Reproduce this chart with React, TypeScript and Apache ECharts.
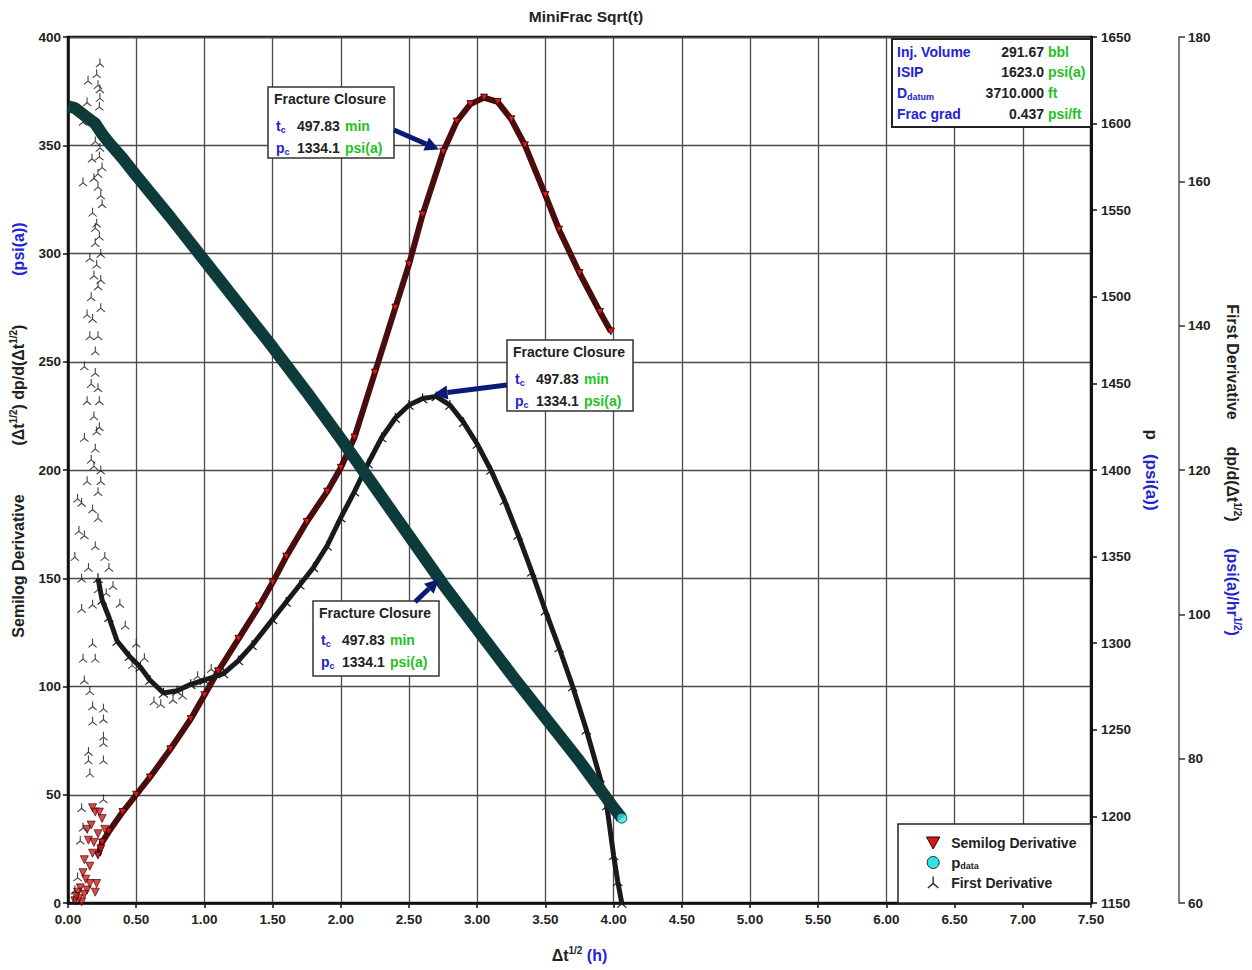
import React, { useEffect, useRef } from "react";
import * as echarts from "echarts";

const FONT = '"Liberation Sans", Arial, sans-serif';

// Semilog derivative (left axis, psi(a))
const semilogEarly: [number, number][] = [
  [0.18, 44], [0.2, 42], [0.23, 42], [0.25, 39], [0.14, 34], [0.15, 29], [0.22, 32], [0.18, 23],
  [0.16, 17], [0.11, 14], [0.09, 7], [0.07, 5], [0.05, 1], [0.14, 6], [0.2, 5], [0.1, 0.5],
  [0.21, 9], [0.16, 9], [0.27, 34], [0.12, 20], [0.19, 28], [0.08, 2], [0.13, 11], [0.17, 36],
  [0.06, 3], [0.12, 4], [0.24, 25],
];
const semilogMain: [number, number][] = [
  [0.22, 22], [0.25, 28], [0.3, 33], [0.4, 42], [0.5, 50], [0.6, 58], [0.75, 71], [0.9, 85],
  [1.0, 96], [1.1, 107], [1.25, 122], [1.4, 137], [1.5, 148], [1.6, 160], [1.75, 176], [1.9, 190],
  [2.0, 201], [2.1, 215], [2.25, 245], [2.4, 275], [2.5, 295], [2.6, 318], [2.75, 347], [2.85, 361],
  [2.95, 369], [3.05, 372], [3.15, 370], [3.25, 362], [3.35, 350], [3.5, 327], [3.6, 311],
  [3.75, 291], [3.9, 273], [3.98, 264],
];

// Pressure data (right axis, psi(a))
const pData: [number, number][] = [
  [0, 1610], [0.05, 1609], [0.1, 1606], [0.15, 1603], [0.2, 1600], [0.25, 1594], [0.3, 1589],
  [0.4, 1580], [0.5, 1570], [0.75, 1546], [1.0, 1521], [1.25, 1496], [1.5, 1471], [1.75, 1445],
  [2.0, 1418], [2.25, 1390], [2.5, 1362], [2.75, 1334], [3.0, 1308], [3.25, 1282], [3.5, 1257],
  [3.75, 1232], [4.0, 1205], [4.06, 1199],
];

// First derivative (outer right axis, psi(a)/hr^1/2)
const firstDerivEarly: [number, number][] = [
  [0.234, 176.4], [0.147, 174], [0.22, 173.4], [0.234, 172.8], [0.234, 171.6], [0.14, 171],
  [0.11, 168.3], [0.234, 164.7], [0.176, 163.2], [0.25, 162], [0.11, 159.9], [0.22, 161.1],
  [0.22, 159.3], [0.25, 156.9], [0.18, 155.7], [0.21, 154.2], [0.2, 151.5], [0.16, 149.4],
  [0.24, 150], [0.19, 147], [0.22, 145.5], [0.17, 144], [0.24, 142.5], [0.14, 141.6],
  [0.16, 138.6], [0.2, 136.5], [0.12, 134.4], [0.17, 132], [0.22, 131.4], [0.14, 129.6],
  [0.19, 127.5], [0.23, 126], [0.12, 124.5], [0.2, 123], [0.17, 121.5], [0.24, 120],
  [0.14, 118.5], [0.22, 117], [0.1, 115.5], [0.07, 116.1], [0.18, 114.6], [0.08, 111.6],
  [0.12, 111], [0.05, 108], [0.2, 109.5], [0.15, 106.5], [0.1, 105], [0.22, 103.5],
  [0.1, 100.8], [0.18, 101.4], [0.11, 93.9], [0.2, 93.9], [0.18, 96], [0.12, 90.9],
  [0.16, 89.4], [0.18, 87.3], [0.18, 85.2], [0.26, 85.5], [0.26, 87], [0.15, 81],
  [0.15, 79.8], [0.16, 78], [0.26, 83.1], [0.26, 82.2], [0.26, 79.8], [0.1, 73.2],
  [0.26, 74.4], [0.11, 70.5], [0.09, 68.7], [0.07, 63.6], [0.05, 61.8], [0.04, 60.3],
  [0.21, 174.9], [0.23, 170.4], [0.22, 168], [0.2, 165.6], [0.23, 163.5], [0.19, 160.5],
  [0.24, 158.1], [0.2, 153.6], [0.23, 152.4], [0.21, 148.5], [0.24, 146.4], [0.18, 141],
  [0.22, 138.6], [0.2, 133.5], [0.23, 129.6], [0.21, 125.4], [0.19, 120.6], [0.24, 118.5],
  [0.22, 113.4], [0.27, 108], [0.3, 106.5], [0.28, 103], [0.33, 104], [0.38, 101.5],
  [0.42, 98.5], [0.5, 96], [0.47, 93], [0.56, 94], [0.63, 88], [0.68, 87.6], [0.77, 88.2],
  [0.84, 88.8], [0.95, 91.5], [1.05, 92.5],
];
const firstDerivMain: [number, number][] = [
  [0.22, 105], [0.25, 102], [0.3, 99.6], [0.36, 96.3], [0.45, 94.2], [0.53, 92.7], [0.6, 90.9],
  [0.7, 89.1], [0.8, 89.4], [0.9, 90.3], [1.0, 90.9], [1.14, 91.8], [1.25, 93.6], [1.35, 95.7],
  [1.5, 99.3], [1.6, 101.7], [1.7, 104.1], [1.8, 106.5], [1.9, 109.5], [2.0, 113.4], [2.1, 117],
  [2.2, 120.9], [2.3, 124.5], [2.4, 127.2], [2.5, 129], [2.6, 129.9], [2.7, 130.2], [2.8, 129],
  [2.9, 126.6], [3.0, 123.6], [3.1, 120], [3.2, 115.8], [3.3, 111], [3.4, 105.9], [3.5, 100.5],
  [3.6, 95.4], [3.7, 90], [3.8, 84], [3.9, 77.4], [3.95, 73.5], [4.0, 66.6], [4.03, 63],
  [4.06, 60],
];

const infoLabels = ["{b|Inj. Volume}", "{b|ISIP}", "{b|D}{s|datum}", "{b|Frac grad}"];
const infoValues = ["291.67", "1623.0", "3710.000", "0.437"];
const infoUnits = ["bbl", "psi(a)", "ft", "psi/ft"];
const closureTc = "497.83";
const closurePc = "1334.1";

const TRI_DOWN = "path://M0,0L10,0L5,9Z";
const TRI_STAR = "path://M4.4,0H5.6V5.4L9.8,9.2L9,10L5,6.6L1,10L0.2,9.2L4.4,5.4Z";

const BLUE = "#2323d2";
const GREEN = "#1fc21f";
const DARK = "#222";
const NAVY = "#0b1a72";
const SP = (n: number) => " ".repeat(n);
const TS = 14; // annotation text size

function arrow(from: number[], to: number[]) {
  const dx = to[0] - from[0];
  const dy = to[1] - from[1];
  const len = Math.hypot(dx, dy);
  const ux = dx / len;
  const uy = dy / len;
  const hl = 14;
  const hw = 7;
  const bx = to[0] - ux * hl;
  const by = to[1] - uy * hl;
  const px = -uy;
  const py = ux;
  return [
    { type: "line", z: 20, shape: { x1: from[0], y1: from[1], x2: bx, y2: by }, style: { stroke: NAVY, lineWidth: 5 } },
    {
      type: "polygon",
      z: 20,
      shape: { points: [[to[0], to[1]], [bx + px * hw, by + py * hw], [bx - px * hw, by - py * hw]] },
      style: { fill: NAVY },
    },
  ];
}

const subRich = {
  b: { fontSize: TS, fontWeight: "bold", fontFamily: FONT, fill: BLUE, color: BLUE, lineHeight: 17 },
  s: { fontSize: 9, fontWeight: "bold", fontFamily: FONT, fill: BLUE, color: BLUE, verticalAlign: "bottom", lineHeight: 17, padding: [5, 0, 0, 0] },
};

function txt(text: string, x: number, y: number, fill: string, align = "left", z = 21) {
  return {
    type: "text",
    z,
    x,
    y,
    style: { text, fill, fontSize: TS, fontWeight: "bold", fontFamily: FONT, align, verticalAlign: "middle" },
  };
}

function richTxt(text: string, x: number, y: number, z = 21) {
  return {
    type: "text",
    z,
    x,
    y,
    style: { text, fontSize: TS, fontWeight: "bold", fontFamily: FONT, fill: BLUE, verticalAlign: "middle", rich: subRich },
  };
}

function closureBox(x: number, y: number, w: number, h: number) {
  return [
    { type: "rect", z: 19, shape: { x, y, width: w, height: h }, style: { fill: "#fff", stroke: "#333", lineWidth: 1.5 } },
    txt("Fracture Closure", x + 6, y + 12, DARK),
    richTxt("{b|t}{s|c}", x + 8, y + 39),
    txt(closureTc, x + 29, y + 39, DARK),
    txt("min", x + 77, y + 39, GREEN),
    richTxt("{b|p}{s|c}", x + 8, y + 61),
    txt(closurePc, x + 29, y + 61, DARK),
    txt("psi(a)", x + 77, y + 61, GREEN),
  ];
}

export default function App() {
  const ref = useRef<HTMLDivElement>(null);

  useEffect(() => {
    if (!ref.current) return;
    const chart = echarts.init(ref.current, undefined, { renderer: "svg" });

    const axisLabelStyle = { fontSize: 13.5, fontWeight: "bold", color: DARK, fontFamily: FONT };
    const nameRich = (size: number) => ({
      a: { fontSize: size, fontWeight: "bold", color: DARK, fontFamily: FONT, lineHeight: 20 },
      sup: { fontSize: 10, fontWeight: "bold", color: DARK, fontFamily: FONT, verticalAlign: "top", lineHeight: 20 },
      u: { fontSize: size, fontWeight: "bold", color: BLUE, fontFamily: FONT, lineHeight: 20 },
      usup: { fontSize: 10, fontWeight: "bold", color: BLUE, fontFamily: FONT, verticalAlign: "top", lineHeight: 20 },
    });

    const option: any = {
      animation: false,
      backgroundColor: "#fff",
      title: {
        text: "MiniFrac Sqrt(t)",
        left: 581,
        top: 3,
        textAlign: "center",
        textStyle: { fontSize: 15.5, fontWeight: "bold", color: DARK, fontFamily: FONT },
      },
      grid: { left: 68, right: 161, top: 37, bottom: 67, show: true, borderColor: "#111", borderWidth: 2.5, backgroundColor: "#fff" },
      legend: {
        orient: "vertical",
        left: 921,
        top: 831,
        itemGap: 5,
        itemWidth: 14,
        itemHeight: 12,
        z: 6,
        selectedMode: false,
        data: [
          { name: "Semilog Derivative", icon: TRI_DOWN, itemStyle: { color: "#d41a1a", borderColor: "#2a0000", borderWidth: 1 } },
          { name: "p_data", icon: "circle", itemStyle: { color: "#35e3e3", borderColor: "#083030", borderWidth: 1 } },
          { name: "First Derivative", icon: TRI_STAR, itemStyle: { color: "#333", borderWidth: 0 } },
        ],
        formatter: (n: string) => (n === "p_data" ? "{p|p}{s|data}" : n),
        textStyle: {
          fontSize: 14,
          fontWeight: "bold",
          color: DARK,
          fontFamily: FONT,
          padding: [0, 0, 0, 6],
          rich: {
            p: { fontSize: 15, fontWeight: "bold", color: DARK, fontFamily: FONT, lineHeight: 16 },
            s: { fontSize: 9, fontWeight: "bold", color: DARK, fontFamily: FONT, verticalAlign: "bottom", lineHeight: 16, padding: [5, 0, 0, 0] },
          },
        },
      },
      xAxis: {
        type: "value",
        min: 0,
        max: 7.5,
        interval: 0.5,
        name: "{a|Δt}{sup|1/2}{u| (h)}",
        nameLocation: "middle",
        nameGap: 42,
        nameTextStyle: { rich: nameRich(16) },
        axisLine: { lineStyle: { color: "#111", width: 2.5 } },
        axisTick: { show: true, length: 5, lineStyle: { color: "#111", width: 1.5 } },
        axisLabel: { ...axisLabelStyle, margin: 9, formatter: (v: number) => v.toFixed(2) },
        splitLine: { show: true, lineStyle: { color: "#4a4a4a", width: 1.3 } },
      },
      yAxis: [
        {
          type: "value",
          min: 0,
          max: 400,
          interval: 50,
          position: "left",
          name: `{a|Semilog Derivative${SP(11)}(Δt}{sup|1/2}{a|) dp/d(Δt}{sup|1/2}{a|)${SP(11)}}{u|(psi(a))}`,
          nameLocation: "middle",
          nameRotate: 90,
          nameGap: 40,
          nameTextStyle: { padding: [0, 0, 0, 80], rich: nameRich(16) },
          axisLine: { show: true, lineStyle: { color: "#111", width: 2.5 } },
          axisTick: { show: true, length: 5, lineStyle: { color: "#111", width: 1.5 } },
          axisLabel: { ...axisLabelStyle, margin: 7 },
          splitLine: { show: true, lineStyle: { color: "#4a4a4a", width: 1.3 } },
        },
        {
          type: "value",
          min: 1150,
          max: 1650,
          interval: 50,
          position: "right",
          name: "{a|p   }{u|(psi(a))}",
          nameLocation: "middle",
          nameRotate: -90,
          nameGap: 50,
          nameTextStyle: { rich: nameRich(17) },
          axisLine: { show: true, lineStyle: { color: "#111", width: 3 } },
          axisTick: { show: true, length: 6, lineStyle: { color: "#111", width: 1.5 } },
          axisLabel: { ...axisLabelStyle, margin: 10, formatter: (v: number) => String(v) },
          splitLine: { show: false },
        },
        {
          type: "value",
          min: 60,
          max: 180,
          interval: 20,
          position: "right",
          offset: 88,
          name: `{a|First Derivative${SP(6)}dp/d(Δt}{sup|1/2}{a|)${SP(6)}}{u|(psi(a)/hr}{usup|1/2}{u|)}`,
          nameLocation: "middle",
          nameRotate: -90,
          nameGap: 43,
          nameTextStyle: { rich: nameRich(16) },
          axisLine: { show: true, lineStyle: { color: "#555", width: 1.5 } },
          axisTick: { show: true, length: 6, lineStyle: { color: "#333", width: 1.5 } },
          axisLabel: { ...axisLabelStyle, margin: 9, formatter: (v: number) => String(v) },
          splitLine: { show: false },
        },
      ],
      series: [
        {
          name: "Semilog Derivative",
          type: "line",
          yAxisIndex: 0,
          data: semilogMain,
          symbol: TRI_DOWN,
          symbolSize: 7,
          showSymbol: true,
          showAllSymbol: true,
          lineStyle: { color: "#4a0c0c", width: 6 },
          itemStyle: { color: "#d41a1a", borderColor: "#2a0000", borderWidth: 0.8 },
          z: 3,
        },
        {
          name: "Semilog Derivative",
          type: "scatter",
          yAxisIndex: 0,
          data: semilogEarly,
          symbol: TRI_DOWN,
          symbolSize: 8,
          itemStyle: { color: "#d41a1a", borderColor: "#2a0000", borderWidth: 0.8 },
          z: 3,
        },
        {
          name: "p_data",
          type: "line",
          yAxisIndex: 1,
          data: pData,
          showSymbol: false,
          lineStyle: { color: "#0d3b3b", width: 12 },
          z: 4,
        },
        {
          name: "p_data",
          type: "scatter",
          yAxisIndex: 1,
          data: [pData[pData.length - 1]],
          symbol: "circle",
          symbolSize: 10,
          itemStyle: { color: "#35e3e3", borderColor: "#083030", borderWidth: 1 },
          z: 5,
        },
        {
          name: "First Derivative",
          type: "line",
          yAxisIndex: 2,
          data: firstDerivMain,
          symbol: TRI_STAR,
          symbolSize: 10,
          showSymbol: true,
          showAllSymbol: true,
          lineStyle: { color: "#1a1a1a", width: 5 },
          itemStyle: { color: "#1a1a1a" },
          z: 3,
        },
        {
          name: "First Derivative",
          type: "scatter",
          yAxisIndex: 2,
          data: firstDerivEarly,
          symbol: TRI_STAR,
          symbolSize: 9,
          itemStyle: { color: "#1a1a1a" },
          z: 3,
        },
      ],
    };

    chart.setOption(option);

    const tipRed = chart.convertToPixel({ xAxisIndex: 0, yAxisIndex: 0 }, [2.72, 348]) as number[];
    const tipBlack = chart.convertToPixel({ xAxisIndex: 0, yAxisIndex: 2 }, [2.68, 130.5]) as number[];
    const tipTeal = chart.convertToPixel({ xAxisIndex: 0, yAxisIndex: 1 }, [2.72, 1337]) as number[];

    const info: any[] = [
      { type: "rect", z: 18, shape: { x: 892, y: 39, width: 199, height: 88 }, style: { fill: "#fff", stroke: "#222", lineWidth: 2 } },
    ];
    const rowsY = [52, 72, 93, 114];
    infoLabels.forEach((l, i) => {
      info.push(richTxt(l, 897, rowsY[i]));
      info.push(txt(infoValues[i], 1044, rowsY[i], DARK, "right"));
      info.push(txt(infoUnits[i], 1048, rowsY[i], GREEN));
    });

    const legendBox = {
      type: "rect",
      z: 5,
      shape: { x: 898, y: 824, width: 193, height: 79 },
      style: { fill: "#fff", stroke: "#222", lineWidth: 1.5 },
    };

    chart.setOption({
      graphic: [
        legendBox,
        ...info,
        ...closureBox(268, 87, 126, 71),
        ...arrow([394, 130], tipRed),
        ...closureBox(507, 340, 126, 71),
        ...arrow([507, 385], tipBlack),
        ...closureBox(313, 601, 126, 75),
        ...arrow([415, 602], tipTeal),
      ],
    });

    return () => chart.dispose();
  }, []);

  return <div ref={ref} style={{ position: "absolute", left: 0, top: 0, width: 1252, height: 970 }} />;
}
